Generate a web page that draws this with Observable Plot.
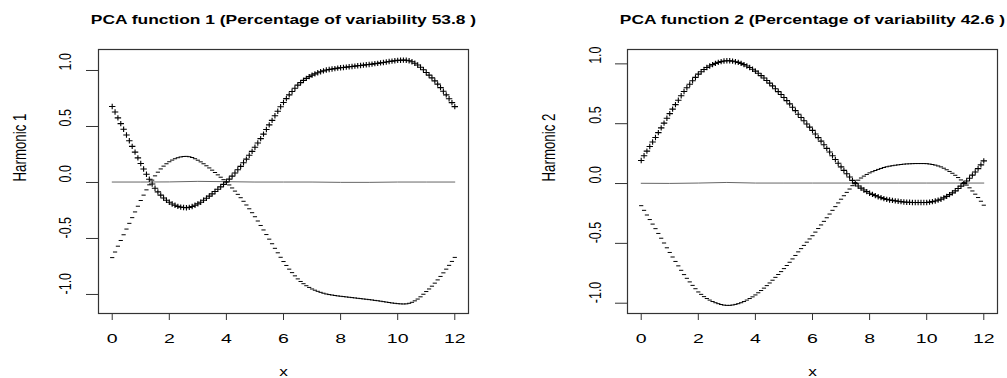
<!DOCTYPE html>
<html><head><meta charset="utf-8">
<script src="https://cdn.jsdelivr.net/npm/d3@7"></script>
<script src="https://cdn.jsdelivr.net/npm/@observablehq/plot@0.6"></script>
<style>
html,body{margin:0;padding:0;background:#fff;}
#wrap{position:relative;width:1007px;height:378px;overflow:hidden;background:#fff;}
.panel{position:absolute;top:0;}
</style></head><body>
<div id="wrap"><div id="p1" class="panel" style="left:0px"></div><div id="p2" class="panel" style="left:504px"></div></div>
<script>
// ---------- data ----------
const xTicks = [0, 2, 4, 6, 8, 10, 12];
const yTicks = [-1, -0.5, 0, 0.5, 1];
const titles = ["PCA function 1 (Percentage of variability 53.8 )", "PCA function 2 (Percentage of variability 42.6 )"];
const yLabels = ["Harmonic 1", "Harmonic 2"];
const xLabel = "x";

// mean function (drawn as line) at x = 0..12
const meanArg = [0, 1, 2, 3, 4, 5, 6, 7, 8, 9, 10, 11, 12];
const meanCurve1 = [0.004, 0.004, 0.005, 0.010, 0.007, 0.004, 0.004, 0.004, 0.001, 0.001, 0.004, 0.004, 0.004];
const meanCurve2 = [0.002, 0.001, 0.004, 0.009, 0.004, 0.004, 0.004, 0.004, 0.004, 0.004, 0.004, 0.004, 0.004];
const meanLevel1 = 0.004;
const meanLevel2 = 0.004;

// harmonic perturbation, sampled at x = 0, 0.1, ..., 12
const harmonic1 = [
 0.675, 0.625, 0.573, 0.522, 0.471, 0.420, 0.369, 0.318, 0.267, 0.216,
 0.165, 0.117, 0.070, 0.025, -0.017, -0.055, -0.088, -0.117, -0.142, -0.163,
 -0.181, -0.196, -0.208, -0.217, -0.224, -0.228, -0.229, -0.226, -0.219, -0.208,
 -0.195, -0.180, -0.163, -0.145, -0.126, -0.106, -0.085, -0.064, -0.043, -0.021,
 0.000, 0.026, 0.053, 0.081, 0.110, 0.140, 0.172, 0.205, 0.239, 0.274,
 0.310, 0.348, 0.388, 0.428, 0.469, 0.510, 0.551, 0.592, 0.632, 0.672,
 0.710, 0.745, 0.778, 0.809, 0.838, 0.865, 0.888, 0.908, 0.926, 0.941,
 0.955, 0.966, 0.976, 0.985, 0.993, 1.000, 1.005, 1.009, 1.013, 1.017,
 1.020, 1.023, 1.026, 1.029, 1.032, 1.035, 1.038, 1.041, 1.044, 1.047,
 1.050, 1.053, 1.057, 1.060, 1.064, 1.068, 1.072, 1.076, 1.080, 1.083,
 1.086, 1.088, 1.089, 1.088, 1.083, 1.074, 1.061, 1.045, 1.025, 1.002,
 0.978, 0.955, 0.930, 0.903, 0.874, 0.843, 0.811, 0.778, 0.744, 0.709,
 0.673
];
const harmonic2 = [
 0.189, 0.228, 0.267, 0.305, 0.343, 0.381, 0.421, 0.461, 0.501, 0.541,
 0.580, 0.618, 0.655, 0.692, 0.729, 0.765, 0.796, 0.826, 0.855, 0.883,
 0.910, 0.930, 0.949, 0.965, 0.978, 0.990, 1.000, 1.008, 1.015, 1.020,
 1.022, 1.022, 1.019, 1.014, 1.008, 1.000, 0.990, 0.978, 0.965, 0.951,
 0.935, 0.917, 0.898, 0.878, 0.857, 0.835, 0.812, 0.788, 0.764, 0.740,
 0.715, 0.689, 0.662, 0.634, 0.605, 0.575, 0.548, 0.521, 0.494, 0.467,
 0.440, 0.410, 0.380, 0.350, 0.320, 0.290, 0.259, 0.228, 0.197, 0.166,
 0.135, 0.106, 0.078, 0.050, 0.022, -0.005, -0.024, -0.042, -0.058, -0.072,
 -0.085, -0.095, -0.105, -0.114, -0.122, -0.130, -0.136, -0.141, -0.145, -0.149,
 -0.152, -0.155, -0.158, -0.160, -0.161, -0.162, -0.163, -0.163, -0.163, -0.163,
 -0.162, -0.159, -0.155, -0.150, -0.143, -0.135, -0.124, -0.111, -0.097, -0.082,
 -0.065, -0.046, -0.026, -0.005, 0.017, 0.040, 0.066, 0.093, 0.121, 0.152,
 0.185
];

// ---------- drawing ----------
const FONT = "'Liberation Sans', Arial, Helvetica, sans-serif";
const plusSymbol = {draw(ctx, size) {
  const r = Math.sqrt(size / Math.PI);
  ctx.moveTo(-r * 1.07, 0); ctx.lineTo(r * 1.07, 0);
  ctx.moveTo(0, -r * 0.9); ctx.lineTo(0, r * 0.9);
}};
const minusSymbol = {draw(ctx, size) {
  const r = Math.sqrt(size / Math.PI) * 0.7;
  ctx.moveTo(-r, 0); ctx.lineTo(r, 0);
}};

// horizontally stretch text glyphs about their own centre (matches the reference's wide rendering)
function stretchTexts(texts, s) {
  const NS = "http://www.w3.org/2000/svg";
  texts.forEach(t => {
    const bb = t.getBBox();
    let cx = bb.x + bb.width / 2, cy = bb.y + bb.height / 2;
    const list = t.transform && t.transform.baseVal;
    if (list && list.numberOfItems) {
      const m = list.consolidate().matrix;
      cx = m.a * cx + m.c * cy + m.e;
    }
    const g = document.createElementNS(NS, "g");
    g.setAttribute("transform", `translate(${cx},0) scale(${s},1) translate(${-cx},0)`);
    t.parentNode.insertBefore(g, t);
    g.appendChild(t);
  });
}

function makePanel(host, cfg) {
  const pts = cfg.harm.map((h, i) => ({x: i / 10, plus: cfg.level + h, minus: cfg.level - h}));
  const means = meanArg.map((x, i) => ({x, y: cfg.meanCurve[i]}));
  const svg = Plot.plot({
    width: cfg.width, height: 378,
    marginLeft: cfg.ml, marginRight: cfg.mr, marginTop: 49, marginBottom: 65,
    style: {fontFamily: FONT, background: "white", color: "#000", overflow: "visible"},
    x: {domain: [-0.48, 12.48]},
    y: {domain: cfg.ydom},
    marks: [
      Plot.frame({stroke: "#333", strokeWidth: 1.2}),
      Plot.axisX(xTicks, {tickSize: 7, tickFormat: () => "", stroke: "#333", label: null}),
      Plot.axisY(yTicks, {tickSize: 12, tickFormat: () => "", stroke: "#333", label: null}),
      Plot.lineY(means, {x: "x", y: "y", stroke: "#666", strokeWidth: 1}),
      Plot.dot(pts, {x: "x", y: "plus", symbol: plusSymbol, r: 3, stroke: "#000", fill: "none", strokeWidth: 1.1}),
      Plot.dot(pts, {x: "x", y: "minus", symbol: minusSymbol, r: 3, stroke: "#000", fill: "none", strokeWidth: 1}),
      Plot.text(xTicks, {x: d => d, frameAnchor: "bottom", dy: 25, text: d => String(d), fontSize: 13, lineAnchor: "middle"}),
      Plot.text(yTicks, {y: d => d, frameAnchor: "left", dx: cfg.ytdx, rotate: -90, text: d => d.toFixed(1), fontSize: 12.5, lineAnchor: "middle"}),
      Plot.text([cfg.title], {frameAnchor: "top", dy: -25.7, text: d => d, fontSize: 13.3, fontWeight: "bold", lineAnchor: "bottom"}),
      Plot.text([xLabel], {frameAnchor: "bottom", dy: 62, text: d => d, fontSize: 13.3, lineAnchor: "bottom"}),
      Plot.text([cfg.ylab], {frameAnchor: "left", dx: -78.7, rotate: -90, text: d => d, fontSize: 13.3, lineAnchor: "middle"})
    ]
  });
  host.appendChild(svg);
  const all = Array.from(svg.querySelectorAll("text")).filter(t => t.textContent !== "");
  const pick = f => all.filter(f);
  const xt = pick(t => xTicks.map(String).includes(t.textContent));
  const yt = pick(t => yTicks.map(d => d.toFixed(1)).includes(t.textContent));
  const ti = pick(t => t.textContent === cfg.title);
  const xl = pick(t => t.textContent === xLabel);
  const yl = pick(t => t.textContent === cfg.ylab);
  stretchTexts(xt, 1.5);
  stretchTexts(yt, 1.35);
  stretchTexts(ti, 1.31);
  stretchTexts(xl, 1.3);
  stretchTexts(yl, 1.35);
  return svg;
}

makePanel(document.getElementById("p1"), {
  harm: harmonic1, meanCurve: meanCurve1, level: meanLevel1, title: titles[0], ylab: yLabels[0],
  width: 504, ml: 98, mr: 36, ydom: [-1.17, 1.1875], ytdx: -33.3
});
makePanel(document.getElementById("p2"), {
  harm: harmonic2, meanCurve: meanCurve2, level: meanLevel2, title: titles[1], ylab: yLabels[1],
  width: 503, ml: 123, mr: 10, ydom: [-1.086, 1.12], ytdx: -32.3
});
</script>
</body></html>
